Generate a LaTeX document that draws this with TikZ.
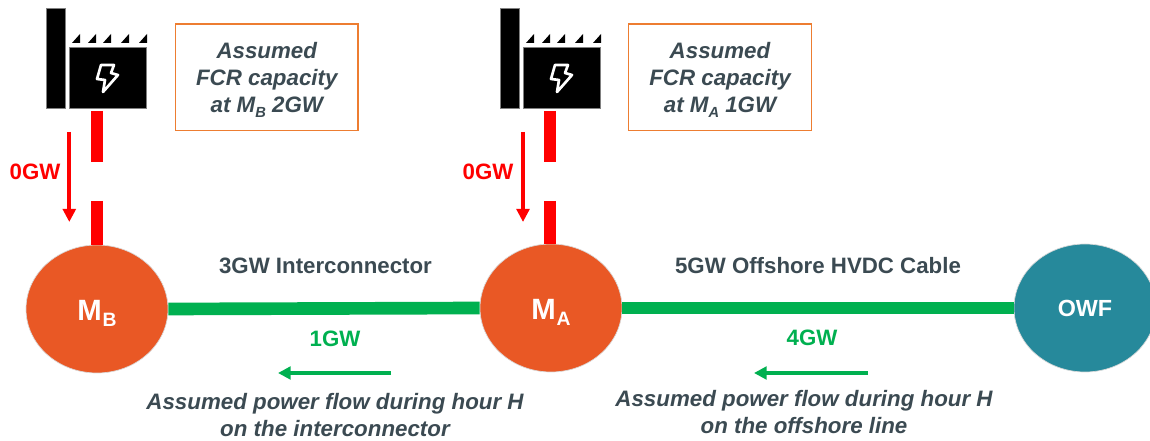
\documentclass[tikz,border=0pt]{standalone}
\usepackage{fontspec}
\setmainfont{Liberation Sans}
\usetikzlibrary{shapes.geometric,arrows.meta}
\definecolor{txtdark}{HTML}{3B4A52}
\definecolor{orangeM}{HTML}{E95825}
\definecolor{tealO}{HTML}{26899B}
\definecolor{greenL}{HTML}{00B050}
\definecolor{boxor}{HTML}{ED7D31}
\definecolor{redL}{HTML}{FF0000}
\newdimen\pxu \pxu=0.75pt
\newcommand{\hubsub}[1]{\kern0.6pt\raisebox{-5pt}{\fontsize{14.5pt}{16pt}\selectfont #1}}
\newcommand{\boxsub}[1]{\raisebox{-4.3pt}{\fontsize{11pt}{12pt}\selectfont #1}}
\tikzset{
  x=0.75pt,y=-0.75pt,
  hub/.style={ellipse,draw=white!85!black,line width=0.5pt,fill=orangeM,text=white,inner sep=0pt,minimum width=142\pxu,minimum height=128\pxu,font=\bfseries\fontsize{22pt}{24pt}\selectfont},
  infobox/.style={rectangle,draw=boxor,line width=1.1pt,inner sep=0pt,minimum width=182.5\pxu,minimum height=106.5\pxu,align=center,text=txtdark,font=\bfseries\itshape\fontsize{16.75pt}{20.25pt}\selectfont},
  caption/.style={align=center,text=txtdark,inner sep=0pt,font=\bfseries\itshape\fontsize{16.75pt}{20.25pt}\selectfont},
  linelabel/.style={text=txtdark,inner sep=0pt,font=\bfseries\fontsize{16.7pt}{18pt}\selectfont},
  redlabel/.style={text=redL,inner sep=0pt,font=\bfseries\fontsize{16.7pt}{18pt}\selectfont},
  greenlabel/.style={text=greenL,inner sep=0pt,font=\bfseries\fontsize{16.7pt}{18pt}\selectfont},
  cable/.style={greenL,line width=9.5pt},
  feeder/.style={redL,line width=9.5pt,dash pattern=on 38.5pt off 29pt},
  redflow/.style={redL,line width=3pt,-{Triangle[length=9.75pt,width=9.5pt]}},
  greenflow/.style={greenL,line width=3pt,-{Triangle[length=9.5pt,width=9.5pt]}},
  blk/.style={rectangle,fill=black,draw=black!50,line width=0.4pt,inner sep=0pt},
}
\newcommand{\factoryicon}[1]{%
  \begin{scope}[shift={(#1,0)}]
    \foreach \tx in {72,88,103,121,139}{
      \fill (\tx,43) -- (\tx+8,43) -- (\tx+8,34) -- cycle;
    }
    \draw[white,line width=2pt,line join=round]
      (101,65) -- (114,65) -- (111,73) -- (118,75) -- (103,92) -- (105,80) -- (97,79) -- cycle;
  \end{scope}}
\begin{document}
\begin{tikzpicture}
\useasboundingbox (0,0) rectangle (1150,441);
% factories
\node[blk,minimum width=19\pxu,minimum height=100\pxu] (chimB) at (55.5,58) {};
\node[blk,minimum width=77\pxu,minimum height=61\pxu] (facB) at (107.5,77.5) {};
\node[blk,minimum width=19\pxu,minimum height=100\pxu] (chimA) at (509.5,58) {};
\node[blk,minimum width=77\pxu,minimum height=61\pxu] (facA) at (561.5,77.5) {};
\factoryicon{0}
\factoryicon{454}
% hubs
\begin{scope}
\clip (0,0) rectangle (1150,441);
\node[hub] (mb) at (97,309) {\rule{0pt}{22pt}M\hubsub{B}};
\node[hub] (ma) at (551,308) {\rule{0pt}{22pt}M\hubsub{A}};
\node[hub,fill=tealO,font=\bfseries\fontsize{17.5pt}{20pt}\selectfont] (owf) at (1085,308) {OWF};
\end{scope}
% feeders
\coordinate (fb) at (97,111);
\coordinate (fa) at (550,111);
\draw[feeder] (fb) -- (fb |- mb.north);
\draw[feeder] (fa) -- (fa |- ma.north);
% info boxes
\node[infobox] (boxB) at (266.8,77.3) {\rule{0pt}{16pt}Assumed\\FCR capacity\\at M\boxsub{B} 2GW};
\node[infobox] (boxA) at (720,77.3) {\rule{0pt}{16pt}Assumed\\FCR capacity\\at M\boxsub{A} 1GW};
% cables
\draw[cable] (mb.east) -- (ma.west);
\draw[cable] (ma.east) -- (owf.west);
% flows
\coordinate (rb1) at (69.3,132);\coordinate (rb2) at (69.3,222);
\coordinate (ra1) at (523,132);\coordinate (ra2) at (523,222);
\draw[redflow] (rb1) -- (rb2);
\draw[redflow] (ra1) -- (ra2);
\coordinate (g1s) at (391,373);\coordinate (g1e) at (278,373);
\coordinate (g2s) at (868,373);\coordinate (g2e) at (754,373);
\draw[greenflow] (g1s) -- (g1e);
\draw[greenflow] (g2s) -- (g2e);
% labels
\node[redlabel] (lb0) at (35,172) {0GW};
\node[redlabel] (la0) at (488,172) {0GW};
\node[linelabel] (l3) at (325.5,265.5) {3GW Interconnector};
\node[linelabel] (l5) at (818,265.5) {5GW Offshore HVDC Cable};
\node[greenlabel] (l1) at (335,339) {1GW};
\node[greenlabel] (l4) at (812,338) {4GW};
\node[caption] (capB) at (335,415) {Assumed power flow during hour H\\on the interconnector};
\node[caption] (capA) at (804,412.5) {Assumed power flow during hour H\\on the offshore line};
\end{tikzpicture}
\end{document}
